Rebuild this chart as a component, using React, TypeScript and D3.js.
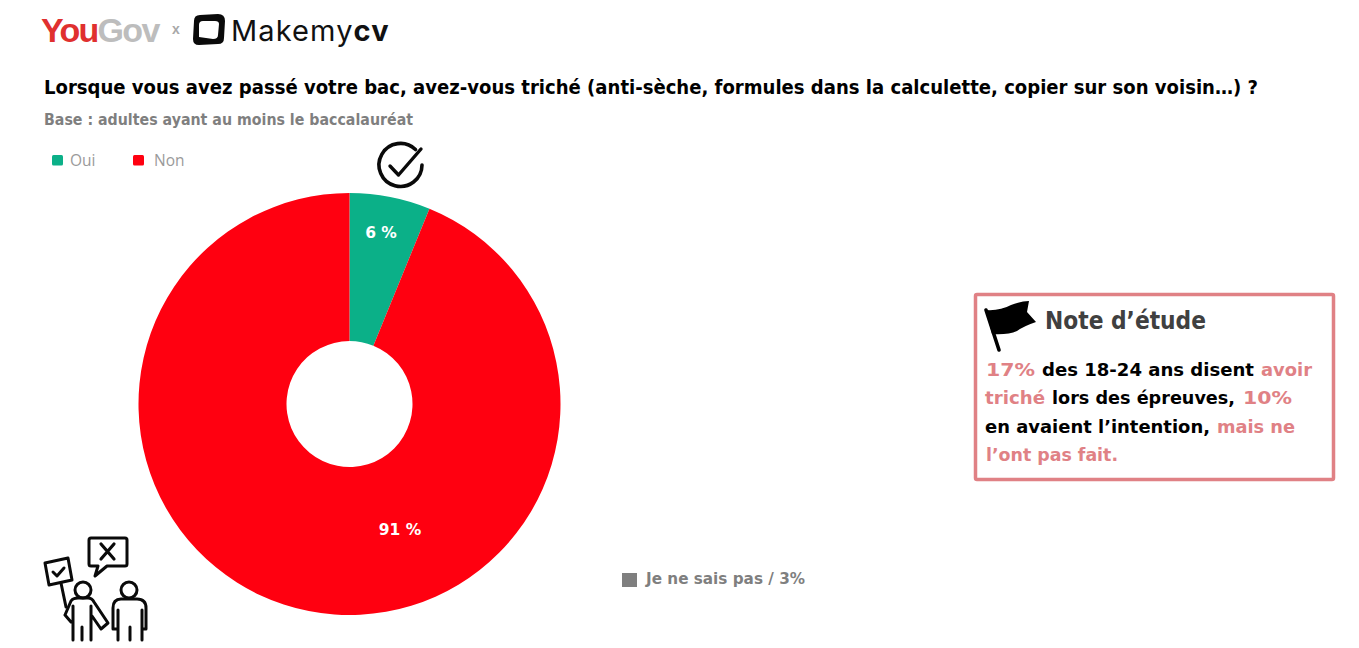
import React from "react";
import * as d3 from "d3";

const categories = ["Oui", "Non"];
const values = [6, 91];
const valueLabels = ["6 %", "91 %"];
const colors = ["#0bb088", "#ff0010"];
const noteTexts = [
  "17%", "des 18-24 ans disent", "avoir",
  "triché", "lors des épreuves,", "10%",
  "en avaient l’intention,", "mais ne",
  "l’ont pas fait.",
];
const notePink = [true, false, true, true, false, true, false, true, true];

const noteX = [986, 1042, 1261, 985, 1052, 1243, 985, 1217, 986];
const noteEnd = [1035, 1254, 1312, 1045, 1235, 1292, 1210, 1295, 1118];
const noteY = [376, 376, 376, 404, 404, 404, 433, 433, 461];

const FONT = "'DejaVu Sans', Verdana, sans-serif";
const cx = 349.5, cy = 404, R = 211, r = 63;

export default function App() {
  const pie = d3.pie<number>().sort(null)(values);
  const arc = d3.arc<d3.PieArcDatum<number>>().innerRadius(r).outerRadius(R);
  const labelPos = [[381, 232], [400, 529]];
  return (
    <svg width={1359} height={648} viewBox="0 0 1359 648"
      style={{ position: "absolute", left: 0, top: 0, background: "#fff" }}>
      {/* logos */}
      <text x={41} y={42} fontFamily="'Liberation Sans', Arial, sans-serif" fontWeight="700" fontSize={34} letterSpacing={-1.7} fill="#e0302f">You<tspan fill="#bdbdbd">Gov</tspan></text>
      <text x={172} y={34} fontFamily="'Liberation Sans', Arial, sans-serif" fontWeight="700" fontSize={14} fill="#a8a8a8">x</text>
      <path d="M200 15 L218 14 Q225 14 225 21 L224 38 Q224 44 218 44 L199 45 Q193 45 193 39 L194 21 Q194 15 200 15 Z M203 21 Q199 21 199 25 L199 37 L213 39 Q218 39 218 35 L219 24 Q219 21 215 21 Z" fill="#0a0a0a" fillRule="evenodd" />
      <text x={231} y={41} fontFamily="Inter, 'Noto Sans', sans-serif" fontWeight="400" fontSize={29} letterSpacing={1.1} fill="#111">Makemy<tspan fontWeight="700">cv</tspan></text>

      {/* title */}
      <text x={44} y={94} fontFamily={FONT} fontWeight="700" fontSize={18.8} fill="#000" textLength={1214} lengthAdjust="spacingAndGlyphs">Lorsque vous avez passé votre bac, avez-vous triché (anti-sèche, formules dans la calculette, copier sur son voisin…) ?</text>
      <text x={44} y={125} fontFamily={FONT} fontWeight="700" fontSize={15} fill="#7f7f7f" textLength={369} lengthAdjust="spacingAndGlyphs">Base : adultes ayant au moins le baccalauréat</text>

      {/* legend */}
      {categories.map((c, i) => {
        const x = [52, 133][i];
        return (
          <g key={c}>
            <rect x={x} y={155} width={11} height={10.5} rx={1.5} fill={colors[i]} />
            <text x={[70, 154][i]} y={165.5} fontFamily="'Open Sans', 'Noto Sans', sans-serif" fontSize={15.5} fill="#9a9a9a">{c}</text>
          </g>
        );
      })}

      {/* donut */}
      <g transform={`translate(${cx},${cy})`}>
        {pie.map((d, i) => <path key={i} d={arc(d) ?? ""} fill={colors[i]} />)}
      </g>
      {valueLabels.map((t, i) => (
        <text key={t} x={labelPos[i][0]} y={labelPos[i][1]} dy="0.36em" textAnchor="middle" fontFamily={FONT} fontWeight="700" fontSize={15.5} fill="#fff">{t}</text>
      ))}

      {/* check icon */}
      <g fill="none" stroke="#0a0a0a" strokeLinecap="round" strokeLinejoin="round">
        <path d="M415.5 149.5 A 21.5 21.5 0 1 0 422 165" strokeWidth={3.6} />
        <path d="M390 166 L398.5 175 L421 149" strokeWidth={3.4} />
      </g>

      {/* people icon */}
      <g fill="none" stroke="#0a0a0a" strokeWidth={3} strokeLinejoin="round" strokeLinecap="round">
        <path d="M91 538 H125 Q127 538 127 540 V564 Q127 566 125 566 H107 L95 576 L98 566 H91 Q89 566 89 564 V540 Q89 538 91 538 Z" />
        <path d="M101 544 L114 559 M114 544 L101 559" strokeWidth={3.2} />
        <path d="M45 563 L68 558 L72 580 L49 585 Z" />
        <path d="M53 572 L57 576 L64 568" />
        <path d="M61 583 L66 607" />
        <circle cx={83} cy={590} r={8} />
        <path d="M65 615 L71 601 Q73 598 78 598 H88 Q92 598 94 602 L108 623 L101 629 L92 616 M65 615 L71 622 M73 606 V640 M91 606 V640 M82 627 V640" />
        <circle cx={129} cy={590} r={8} />
        <path d="M113 629 V608 Q113 599 121 599 H137 Q146 599 146 608 V629 H142 V640 M113 629 H118 V640 M118 610 V629 M142 610 V629 M130 627 V640" />
      </g>

      {/* unknown */}
      <rect x={622} y={573} width={15} height={14} fill="#7f7f7f" />
      <text x={646} y={584} fontFamily={FONT} fontWeight="700" fontSize={15} fill="#7f7f7f" textLength={159} lengthAdjust="spacingAndGlyphs">Je ne sais pas / 3%</text>

      {/* note box */}
      <rect x={975.5} y={294.5} width={358} height={185} rx={1.5} fill="#fff" stroke="#e08185" strokeWidth={3.5} />
      <path d="M986 310 Q1000 311 1011 305 Q1022 301 1029 301 L1027 312 L1036 322 Q1024 326 1017 331 Q1008 335 992 334 Z" fill="#000" />
      <path d="M986 310 L999 350" stroke="#000" strokeWidth={3.6} strokeLinecap="round" />
      <text x={1045} y={329} fontFamily={FONT} fontWeight="700" fontSize={24} fill="#404040" textLength={161} lengthAdjust="spacingAndGlyphs">Note d’étude</text>
      {noteTexts.map((t, i) => (
        <text key={i} x={noteX[i]} y={noteY[i]} fontFamily={FONT} fontWeight="700" fontSize={18}
          fill={notePink[i] ? "#e08185" : "#000"} textLength={noteEnd[i] - noteX[i]} lengthAdjust="spacingAndGlyphs">{t}</text>
      ))}
    </svg>
  );
}
